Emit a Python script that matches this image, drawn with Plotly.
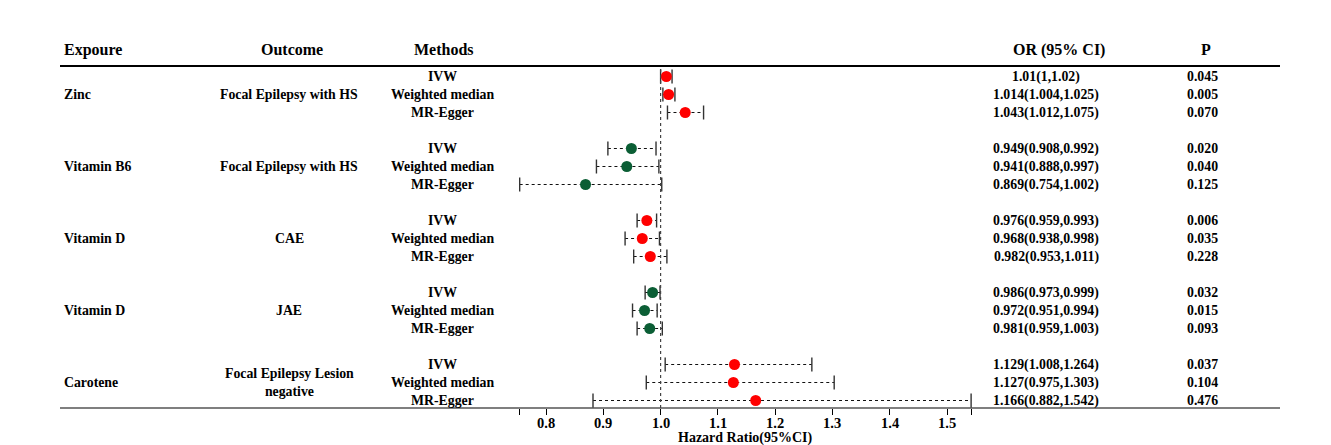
import plotly.graph_objects as go

exposures = ["Zinc", "Vitamin B6", "Vitamin D", "Vitamin D", "Carotene"]
outcomes = ["Focal Epilepsy with HS", "Focal Epilepsy with HS", "CAE", "JAE",
            "Focal Epilepsy Lesion<br>negative"]
methods = ["IVW", "Weighted median", "MR-Egger"]
group_colors = ["#FF0000", "#0B5E35", "#FF0000", "#0B5E35", "#FF0000"]

or_vals = [1.01, 1.014, 1.043, 0.949, 0.941, 0.869, 0.976, 0.968, 0.982,
           0.986, 0.972, 0.981, 1.129, 1.127, 1.166]
ci_low = [1.0, 1.004, 1.012, 0.908, 0.888, 0.754, 0.959, 0.938, 0.953,
          0.973, 0.951, 0.959, 1.008, 0.975, 0.882]
ci_high = [1.02, 1.025, 1.075, 0.992, 0.997, 1.002, 0.993, 0.998, 1.011,
           0.999, 0.994, 1.003, 1.264, 1.303, 1.542]
or_text = ["1.01(1,1.02)", "1.014(1.004,1.025)", "1.043(1.012,1.075)",
           "0.949(0.908,0.992)", "0.941(0.888,0.997)", "0.869(0.754,1.002)",
           "0.976(0.959,0.993)", "0.968(0.938,0.998)", "0.982(0.953,1.011)",
           "0.986(0.973,0.999)", "0.972(0.951,0.994)", "0.981(0.959,1.003)",
           "1.129(1.008,1.264)", "1.127(0.975,1.303)", "1.166(0.882,1.542)"]
p_text = ["0.045", "0.005", "0.070", "0.020", "0.040", "0.125", "0.006", "0.035",
          "0.228", "0.032", "0.015", "0.093", "0.037", "0.104", "0.476"]
headers = ["Expoure", "Outcome", "Methods", "OR (95% CI)", "P"]
tick_vals = [0.8, 0.9, 1.0, 1.1, 1.2, 1.3, 1.4, 1.5]
ref_value = 1.0
x_title = "Hazard Ratio(95%CI)"

W, H = 1331, 445
BOTTOM = 37
PLOT_H = H - BOTTOM
px_per_unit = 572.9
x0_px = 660.6 - px_per_unit * 1.0
x_range = [(0 - x0_px) / px_per_unit, (W - x0_px) / px_per_unit]
row_top_px, row_step = 76.5, 18.0
y_range = [(PLOT_H - row_top_px) / row_step, (0 - row_top_px) / row_step]

def xpaper(px):
    return px / W

def ypaper(px):
    return 1 - px / PLOT_H

FONT = "Liberation Serif, Times New Roman, serif"
BODY = 13.8

fig = go.Figure()

rows = []
for g in range(len(exposures)):
    for m in range(len(methods)):
        rows.append(g * 4 + m)

for i, r in enumerate(rows):
    g = i // 3
    fig.add_trace(go.Scatter(
        x=[ci_low[i], ci_high[i]], y=[r, r], mode="lines+markers",
        line=dict(color="#111111", width=1, dash="3px,3px"),
        marker=dict(symbol="line-ns", size=10,
                    line=dict(color="#333333", width=1.4)),
        showlegend=False, hoverinfo="skip"))
    fig.add_trace(go.Scatter(
        x=[or_vals[i]], y=[r], mode="markers",
        marker=dict(color=group_colors[g], size=11, line=dict(width=0)),
        showlegend=False))

annos = []
def txt(x, y, s, size=BODY, xanchor="center", xref="paper", yref="y"):
    annos.append(dict(x=x, y=y, xref=xref, yref=yref, text=s, showarrow=False,
                      xanchor=xanchor, yanchor="middle",
                      font=dict(family=FONT, size=size, color="black", weight="bold")))

hx = [(62, "left"), (292, "center"), (444, "center"), (1059, "center"), (1206, "center")]
for (px, anc), h in zip(hx, headers):
    txt(xpaper(px), ypaper(49.5), h, size=16, xanchor=anc, yref="paper")

for g in range(len(exposures)):
    mid = g * 4 + 1
    txt(xpaper(62), mid, exposures[g], xanchor="left")
    txt(xpaper(289), mid, outcomes[g])
for i, r in enumerate(rows):
    txt(xpaper(442), r, methods[i % 3])
    txt(xpaper(1046), r, or_text[i])
    txt(xpaper(1202), r, p_text[i])

# tick labels, placed at the tick values on the x axis
for v in tick_vals:
    txt(v, ypaper(422.5), f"{v:.1f}", size=14.5, xref="x", yref="paper")

ax_min, ax_max = min(ci_low), max(ci_high)
annos.append(dict(x=(ax_min + ax_max) / 2, y=ypaper(437.5), xref="x", yref="paper",
                  text=x_title, showarrow=False, yanchor="middle",
                  font=dict(family=FONT, size=14, color="black", weight="bold")))

shapes = [
    dict(type="line", xref="paper", yref="paper", x0=xpaper(60), x1=xpaper(1280),
         y0=ypaper(66), y1=ypaper(66), line=dict(color="black", width=2)),
    dict(type="line", xref="paper", yref="paper", x0=xpaper(60), x1=xpaper(1280),
         y0=0, y1=0, line=dict(color="black", width=1.2)),
    dict(type="line", xref="x", yref="paper", x0=ref_value, x1=ref_value,
         y0=0, y1=ypaper(67), line=dict(color="#444444", width=1.2, dash="dot")),
]

all_ticks = [ax_min] + tick_vals + [ax_max]

fig.update_layout(
    width=W, height=H, margin=dict(l=0, r=0, t=0, b=BOTTOM),
    paper_bgcolor="white", plot_bgcolor="white",
    xaxis=dict(range=x_range, showgrid=False, zeroline=False, showline=False,
               tickmode="array", tickvals=all_ticks, showticklabels=False,
               ticks="outside", ticklen=6, tickwidth=1.2, tickcolor="black"),
    yaxis=dict(range=y_range, visible=False),
    annotations=annos, shapes=shapes, showlegend=False,
)
fig.write_html("out.html", config={"displayModeBar": False},
               post_script="document.body.style.margin='0';document.body.style.overflow='hidden';")
